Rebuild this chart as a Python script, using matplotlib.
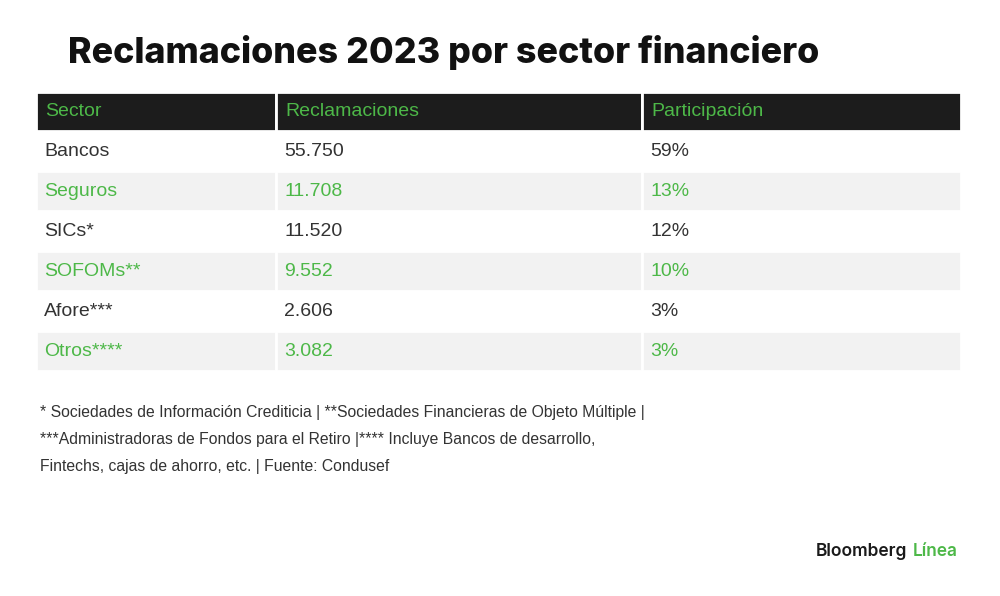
import matplotlib.pyplot as plt
from matplotlib.patches import Rectangle

# table content
columns = ["Sector", "Reclamaciones", "Participación"]
sectors = ["Bancos", "Seguros", "SICs*", "SOFOMs**", "Afore***", "Otros****"]
claims = ["55.750", "11.708", "11.520", "9.552", "2.606", "3.082"]
shares = ["59%", "13%", "12%", "10%", "3%", "3%"]

title = "Reclamaciones 2023 por sector financiero"
notes = [
    "* Sociedades de Información Crediticia | **Sociedades Financieras de Objeto Múltiple |",
    "***Administradoras de Fondos para el Retiro |**** Incluye Bancos de desarrollo,",
    "Fintechs, cajas de ahorro, etc. | Fuente: Condusef",
]

GREEN = "#4db848"
DARK = "#1c1c1c"
TEXT = "#333333"
STRIPE = "#f2f2f2"
FONT = "Liberation Sans"

col_x = [36, 276, 642, 961]   # column edges in px
top, head_h, row_h = 92, 39, 40

fig = plt.figure(figsize=(10, 5.96), dpi=100)
ax = fig.add_axes([0, 0, 1, 1])
ax.set_xlim(0, 1000)
ax.set_ylim(596, 0)
ax.axis("off")

ax.text(68, 53, title, fontsize=25.8, fontweight="heavy", family="Inter",
        color="#111111", va="center", ha="left")

# header
for j, name in enumerate(columns):
    ax.add_patch(Rectangle((col_x[j], top), col_x[j + 1] - col_x[j], head_h,
                           facecolor=DARK, edgecolor="white", lw=2))
    ax.text(col_x[j] + 9, top + head_h / 2, name, fontsize=14, family=FONT,
            color=GREEN, va="center")

# body rows
for i, row in enumerate(zip(sectors, claims, shares)):
    y0 = top + head_h + i * row_h
    odd = i % 2 == 1
    color = GREEN if odd else TEXT
    for j, val in enumerate(row):
        if odd:
            ax.add_patch(Rectangle((col_x[j], y0), col_x[j + 1] - col_x[j], row_h,
                                   facecolor=STRIPE, edgecolor="white", lw=2))
        ax.text(col_x[j] + 8, y0 + row_h / 2, val, fontsize=14, family=FONT,
                color=color, va="center")

# footnotes
for k, line in enumerate(notes):
    ax.text(40, 413 + k * 26.5, line, fontsize=11.3, family=FONT,
            color="#333333", va="center")

# logo
ax.text(907, 552, "Bloomberg", fontsize=12.5, fontweight="semibold", family="Inter",
        color="#1a1a1a", va="center", ha="right")
ax.text(913, 552, "Línea", fontsize=12.5, fontweight="semibold", family="Inter",
        color=GREEN, va="center", ha="left")

fig.savefig("out.png", dpi=100, facecolor="white")
